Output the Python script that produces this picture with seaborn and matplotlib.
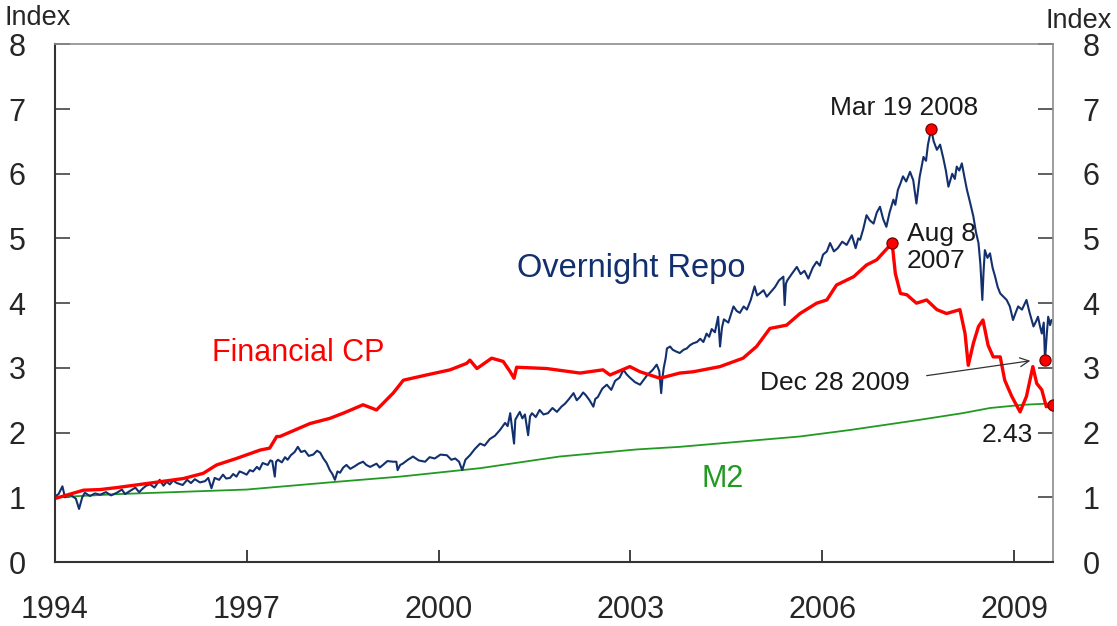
import pandas as pd
import matplotlib
matplotlib.use('Agg')
import matplotlib.pyplot as plt
import seaborn as sns

# Overnight repo index
repo_year = [1994.00, 1994.06, 1994.12, 1994.16, 1994.22, 1994.27, 1994.33, 1994.38, 1994.43, 1994.47,
             1994.55, 1994.63, 1994.71, 1994.80, 1994.88, 1994.97, 1995.05, 1995.10, 1995.18, 1995.26,
             1995.32, 1995.38, 1995.43, 1995.49, 1995.56, 1995.64, 1995.70, 1995.75, 1995.80, 1995.85,
             1995.91, 1996.00, 1996.07, 1996.13, 1996.19, 1996.27, 1996.35, 1996.40, 1996.45, 1996.50,
             1996.57, 1996.63, 1996.68, 1996.74, 1996.79, 1996.84, 1996.89, 1996.94, 1997.00, 1997.05,
             1997.10, 1997.16, 1997.20, 1997.25, 1997.33, 1997.37, 1997.40, 1997.44, 1997.46, 1997.49,
             1997.55, 1997.60, 1997.64, 1997.69, 1997.75, 1997.80, 1997.85, 1997.91, 1997.97, 1998.04,
             1998.10, 1998.15, 1998.20, 1998.25, 1998.30, 1998.34, 1998.38, 1998.42, 1998.46, 1998.51,
             1998.56, 1998.62, 1998.69, 1998.75, 1998.82, 1998.87, 1998.93, 1999.03, 1999.08, 1999.13,
             1999.20, 1999.29, 1999.34, 1999.36, 1999.40, 1999.44, 1999.52, 1999.60, 1999.69, 1999.79,
             1999.86, 1999.94, 2000.03, 2000.13, 2000.20, 2000.26, 2000.32, 2000.37, 2000.42, 2000.49,
             2000.57, 2000.65, 2000.72, 2000.80, 2000.88, 2000.96, 2001.04, 2001.08, 2001.12, 2001.18,
             2001.20, 2001.23, 2001.27, 2001.31, 2001.35, 2001.40, 2001.43, 2001.46, 2001.52, 2001.58,
             2001.64, 2001.71, 2001.78, 2001.85, 2001.92, 2001.98, 2002.04, 2002.11, 2002.16, 2002.21,
             2002.26, 2002.30, 2002.36, 2002.42, 2002.45, 2002.49, 2002.56, 2002.63, 2002.70, 2002.76,
             2002.83, 2002.89, 2002.94, 2002.99, 2003.07, 2003.15, 2003.21, 2003.27, 2003.34, 2003.41,
             2003.45, 2003.48, 2003.50, 2003.52, 2003.55, 2003.57, 2003.62, 2003.66, 2003.72, 2003.77,
             2003.83, 2003.88, 2003.93, 2003.98, 2004.04, 2004.09, 2004.14, 2004.19, 2004.23, 2004.27,
             2004.32, 2004.37, 2004.40, 2004.43, 2004.46, 2004.53, 2004.61, 2004.66, 2004.71, 2004.77,
             2004.82, 2004.88, 2004.94, 2004.98, 2005.02, 2005.08, 2005.13, 2005.20, 2005.26, 2005.32,
             2005.39, 2005.41, 2005.43, 2005.45, 2005.52, 2005.60, 2005.66, 2005.72, 2005.78, 2005.85,
             2005.91, 2005.96, 2006.01, 2006.07, 2006.12, 2006.18, 2006.24, 2006.31, 2006.38, 2006.46,
             2006.52, 2006.56, 2006.59, 2006.64, 2006.69, 2006.74, 2006.80, 2006.85, 2006.90, 2006.95,
             2007.00, 2007.05, 2007.11, 2007.14, 2007.18, 2007.22, 2007.26, 2007.31, 2007.37, 2007.42,
             2007.47, 2007.52, 2007.58, 2007.62, 2007.65, 2007.70, 2007.74, 2007.79, 2007.84, 2007.89,
             2007.93, 2007.97, 2008.03, 2008.07, 2008.10, 2008.14, 2008.18, 2008.22, 2008.26, 2008.31,
             2008.36, 2008.40, 2008.44, 2008.47, 2008.50, 2008.52, 2008.54, 2008.58, 2008.62, 2008.66,
             2008.70, 2008.74, 2008.78, 2008.83, 2008.88, 2008.93, 2008.98, 2009.02, 2009.06, 2009.12,
             2009.19, 2009.24, 2009.30, 2009.34, 2009.37, 2009.40, 2009.43, 2009.46, 2009.48, 2009.51,
             2009.53, 2009.56, 2009.58]
repo_value = [1.01, 1.05, 1.17, 1.00, 1.04, 1.02, 0.98, 0.82, 1.00, 1.07,
              1.02, 1.06, 1.04, 1.08, 1.03, 1.07, 1.12, 1.05, 1.10, 1.15,
              1.08, 1.14, 1.18, 1.20, 1.15, 1.27, 1.18, 1.24, 1.20, 1.26,
              1.22, 1.19, 1.27, 1.22, 1.28, 1.23, 1.25, 1.30, 1.14, 1.30,
              1.27, 1.35, 1.29, 1.30, 1.36, 1.32, 1.40, 1.38, 1.35, 1.42,
              1.40, 1.47, 1.43, 1.53, 1.50, 1.57, 1.56, 1.32, 1.55, 1.58,
              1.54, 1.62, 1.58, 1.65, 1.70, 1.78, 1.70, 1.72, 1.64, 1.66,
              1.72, 1.69, 1.60, 1.53, 1.42, 1.36, 1.27, 1.40, 1.38, 1.46,
              1.50, 1.44, 1.48, 1.52, 1.55, 1.50, 1.47, 1.52, 1.46, 1.50,
              1.56, 1.55, 1.55, 1.42, 1.50, 1.52, 1.58, 1.63, 1.57, 1.55,
              1.62, 1.60, 1.66, 1.65, 1.58, 1.60, 1.55, 1.42, 1.58, 1.65,
              1.75, 1.83, 1.80, 1.90, 1.95, 2.04, 2.15, 2.10, 2.30, 1.83,
              2.20, 2.25, 2.32, 2.22, 2.28, 1.96, 2.25, 2.30, 2.24, 2.35,
              2.28, 2.30, 2.38, 2.32, 2.40, 2.45, 2.52, 2.61, 2.50, 2.55,
              2.62, 2.58, 2.50, 2.40, 2.52, 2.55, 2.68, 2.74, 2.66, 2.80,
              2.85, 2.97, 2.90, 2.85, 2.78, 2.74, 2.82, 2.90, 2.96, 3.05,
              2.95, 2.61, 2.85, 3.00, 3.15, 3.30, 3.33, 3.28, 3.25, 3.23,
              3.28, 3.30, 3.35, 3.38, 3.40, 3.45, 3.40, 3.53, 3.48, 3.60,
              3.55, 3.79, 3.33, 3.62, 3.75, 3.70, 3.95, 3.88, 3.85, 3.95,
              3.90, 4.05, 4.26, 4.12, 4.15, 4.20, 4.10, 4.18, 4.25, 4.35,
              4.41, 3.97, 4.30, 4.35, 4.45, 4.56, 4.45, 4.50, 4.38, 4.55,
              4.64, 4.58, 4.75, 4.80, 4.93, 4.80, 4.85, 4.95, 4.90, 5.05,
              4.85, 5.00, 4.98, 5.15, 5.36, 5.28, 5.23, 5.40, 5.49, 5.30,
              5.18, 5.40, 5.60, 5.52, 5.75, 5.85, 5.96, 5.88, 6.03, 5.90,
              5.54, 5.95, 6.26, 6.20, 6.45, 6.69, 6.50, 6.37, 6.45, 6.24,
              6.05, 5.80, 6.00, 5.92, 6.11, 6.05, 6.16, 5.95, 5.75, 5.55,
              5.34, 5.10, 4.93, 4.60, 4.05, 4.50, 4.82, 4.70, 4.77, 4.55,
              4.41, 4.25, 4.15, 4.10, 4.05, 3.95, 3.74, 3.85, 3.95, 3.90,
              4.05, 3.85, 3.64, 3.72, 3.79, 3.65, 3.53, 3.70, 3.12, 3.55,
              3.79, 3.66, 3.74]

# Financial CP index
cp_year = [1994.00, 1994.45, 1994.71, 1994.97, 1995.49, 1996.01, 1996.32, 1996.53, 1996.84, 1997.21,
           1997.36, 1997.47, 1997.52, 1997.99, 1998.30, 1998.51, 1998.82, 1999.03, 1999.29, 1999.45,
           1999.81, 2000.18, 2000.44, 2000.49, 2000.60, 2000.83, 2001.01, 2001.12, 2001.18, 2001.22,
           2001.69, 2002.21, 2002.57, 2002.68, 2002.99, 2003.15, 2003.46, 2003.77, 2003.98, 2004.40,
           2004.76, 2004.97, 2005.18, 2005.44, 2005.65, 2005.91, 2006.07, 2006.22, 2006.49, 2006.69,
           2006.85, 2007.09, 2007.14, 2007.22, 2007.32, 2007.47, 2007.63, 2007.79, 2007.94, 2008.15,
           2008.23, 2008.28, 2008.36, 2008.44, 2008.51, 2008.59, 2008.67, 2008.78, 2008.85, 2008.96,
           2009.09, 2009.19, 2009.29, 2009.35, 2009.43, 2009.50, 2009.60]
cp_value = [0.98, 1.11, 1.12, 1.15, 1.22, 1.29, 1.37, 1.50, 1.60, 1.73,
            1.76, 1.94, 1.94, 2.14, 2.22, 2.30, 2.43, 2.35, 2.61, 2.81,
            2.89, 2.97, 3.07, 3.12, 2.99, 3.15, 3.10, 2.94, 2.84, 3.01,
            2.99, 2.92, 2.97, 2.89, 3.02, 2.94, 2.84, 2.92, 2.94, 3.02,
            3.15, 3.33, 3.61, 3.66, 3.84, 4.00, 4.05, 4.28, 4.41, 4.59,
            4.67, 4.93, 4.46, 4.15, 4.13, 4.00, 4.05, 3.90, 3.84, 3.90,
            3.53, 3.04, 3.38, 3.64, 3.74, 3.35, 3.17, 3.17, 2.81, 2.56,
            2.32, 2.56, 3.02, 2.76, 2.66, 2.40, 2.43]

# M2 index
m2_year = [1994.00, 1995.00, 1997.00, 1998.41, 1999.40, 2000.65, 2001.89, 2003.10, 2003.77, 2005.65,
           2006.43, 2007.47, 2008.19, 2008.62, 2009.14, 2009.57]
m2_value = [1.00, 1.05, 1.12, 1.24, 1.32, 1.45, 1.63, 1.74, 1.78, 1.94,
            2.04, 2.19, 2.30, 2.38, 2.43, 2.45]

# highlighted points
dot_year = [2007.70, 2007.09, 2009.48, 2009.60]
dot_value = [6.69, 4.93, 3.12, 2.43]

x_ticks = [1994, 1997, 2000, 2003, 2006, 2009]
y_ticks = [0, 1, 2, 3, 4, 5, 6, 7, 8]

NAVY = '#13306e'
RED = '#ff0000'
GREEN = '#229a22'

sns.set_theme(style='white')
plt.rcParams['font.family'] = ['Liberation Sans', 'DejaVu Sans']

repo = pd.DataFrame({'year': repo_year, 'value': repo_value})
cp = pd.DataFrame({'year': cp_year, 'value': cp_value})
m2 = pd.DataFrame({'year': m2_year, 'value': m2_value})
dots = pd.DataFrame({'year': dot_year, 'value': dot_value})

fig = plt.figure(figsize=(11.17, 6.26), dpi=100)
ax = fig.add_axes([0.049, 0.1022, 0.894, 0.827])

sns.lineplot(data=m2, x='year', y='value', color=GREEN, lw=1.3, estimator=None, ax=ax)
sns.lineplot(data=repo, x='year', y='value', color=NAVY, lw=1.5, estimator=None, ax=ax)
sns.lineplot(data=cp, x='year', y='value', color=RED, lw=2.4, estimator=None, ax=ax)
ax.plot(dots['year'], dots['value'], 'o', ms=8, mfc=RED, mec='#7a0000', mew=0.9, zorder=5)

ax.set_xlim(1994, 2009.61)
ax.set_ylim(0, 8)
ax.set_xticks(x_ticks)
ax.set_yticks(y_ticks)
ax.set_xlabel('')
ax.set_ylabel('')

for side in ['left', 'bottom']:
    ax.spines[side].set_color('#333333')
    ax.spines[side].set_linewidth(1.5)
for side in ['top', 'right']:
    ax.spines[side].set_color('#8c8c8c')
    ax.spines[side].set_linewidth(1.2)
    ax.spines[side].set_visible(True)

ax.tick_params(axis='x', direction='in', length=9, width=1.3, color='#333333',
               labelsize=22, pad=24, bottom=True)
ax.tick_params(axis='y', direction='in', length=11, width=1.1, color='#333333',
               labelsize=22, pad=21, left=True, right=True, labelright=True)
for t in ax.yaxis.get_major_ticks():
    t.tick2line.set_color('#8c8c8c')

# labels
fig.text(0.004, 1 - 25 / 626, 'Index', fontsize=19.5, va='baseline', ha='left')
fig.text(1045 / 1117, 1 - 28 / 626, 'Index', fontsize=19.5, va='baseline', ha='left')

ax.text(2001.22, 4.41, 'Overnight Repo', color=NAVY, fontsize=23.5, va='baseline')
ax.text(1996.46, 3.10, 'Financial CP', color=RED, fontsize=22, va='baseline')
ax.text(2004.11, 1.16, 'M2', color=GREEN, fontsize=22, va='baseline')

ax.text(2007.275, 6.91, 'Mar 19 2008', fontsize=19, ha='center', va='baseline', color='#1a1a1a')
ax.text(2007.32, 4.96, 'Aug 8', fontsize=19, va='baseline', color='#1a1a1a')
ax.text(2007.32, 4.54, '2007', fontsize=19, va='baseline', color='#1a1a1a')
ax.text(2005.02, 2.66, 'Dec 28 2009', fontsize=19, va='baseline', color='#1a1a1a')
ax.text(2009.29, 1.86, '2.43', fontsize=19, ha='right', va='baseline', color='#1a1a1a')
ax.annotate('', xy=(2009.25, 3.11), xytext=(2007.63, 2.88),
            arrowprops=dict(arrowstyle='->', color='#333333', lw=0.9, mutation_scale=16,
                            shrinkA=0, shrinkB=0))

fig.savefig('out.png', dpi=100)
